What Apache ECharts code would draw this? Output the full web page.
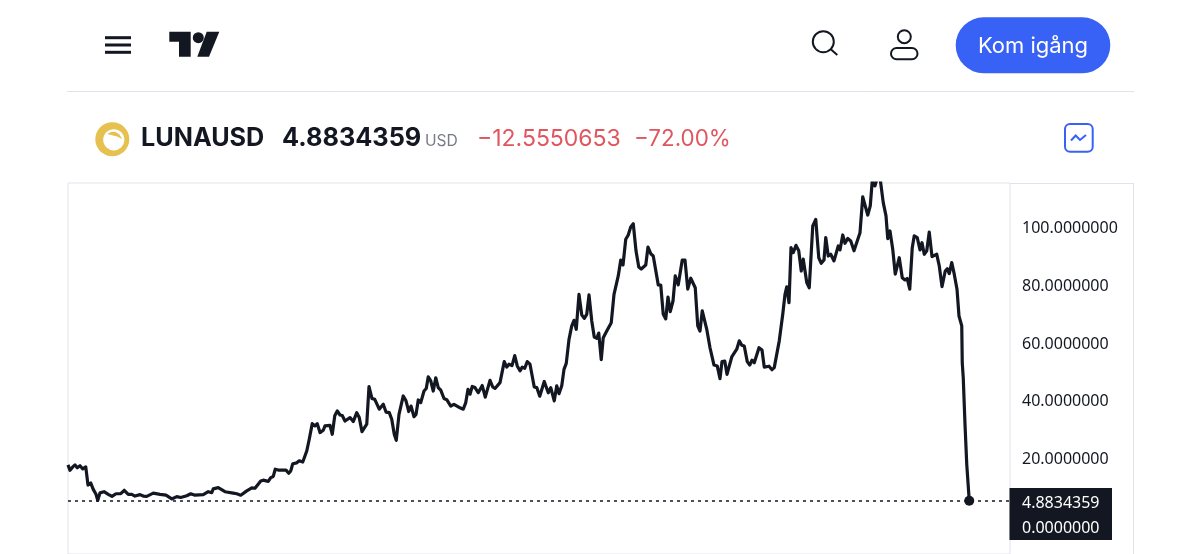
<!DOCTYPE html>
<html>
<head>
<meta charset="utf-8">
<title>LUNAUSD</title>
<script src="https://cdn.jsdelivr.net/npm/echarts@6/dist/echarts.min.js"></script>
<style>
html, body { margin: 0; padding: 0; background: #fff; }
#main { width: 1200px; height: 554px; }
</style>
</head>
<body>
<div id="main"></div>
<script>
/* sessions since the left edge of the chart */
var sessions = [
  0, 0.8, 1.9, 2.8, 3.7, 4.8, 5.9, 7.1, 8, 9.1, 10.1, 11.2, 11.9, 12.8, 14.4, 16.1, 17.6, 19.2, 21.1, 22.5,
  24.1, 25.5, 26.8, 28.8, 30.1, 31.5, 34.1, 36.8, 39.2, 41.5, 43.5, 45.1, 47.5, 49.1, 50.8, 54.1, 56.1, 57.5, 58.1, 60.1,
  62.8, 66.1, 67.5, 69.1, 71.5, 73.5, 74.8, 77.1, 78.1, 80.1, 81.1, 82.1, 82.9, 84.1, 87.2, 88.3, 89.1, 89.9, 91.5, 92.5,
  93.9, 95.5, 96.5, 97.7, 98.8, 99.7, 100.8, 102.1, 102.8, 104.8, 105.7, 106.7, 107.7, 108.8, 109.7, 110.8, 112.8, 114.1, 115.5, 116.5,
  117.6, 119.5, 120.4, 121.6, 122.7, 124.5, 126.1, 127.2, 128.5, 129.5, 130.5, 131.3, 132.4, 134.1, 135.2, 136.3, 137.2, 138.4, 139.2, 140.1,
  141.1, 142.4, 143.3, 144.1, 145.1, 146.1, 147.1, 148.1, 149.1, 150.4, 151.5, 153.1, 154.4, 156.8, 158.1, 159.1, 160, 160.8, 161.7, 162.8,
  164.1, 165.7, 166.9, 168.8, 169.9, 170.8, 172.8, 174.5, 175.5, 176.4, 177.6, 178.7, 179.7, 180.8, 181.7, 182.7, 183.7, 184.8, 186.5, 187.5,
  188.7, 190.5, 192.1, 193.1, 194.5, 195.5, 196.4, 197.5, 198.4, 199.3, 200.4, 201.5, 202.4, 203.3, 204.4, 205.5, 206.5, 207.5, 208.4, 209.5,
  210.5, 211.5, 212.3, 213.3, 214.1, 215.5, 217.3, 218.4, 220.1, 221.1, 222, 223.1, 224.1, 225.1, 226.1, 227.2, 228.3, 229.3, 231.1, 232,
  233.1, 234.1, 236.1, 237.1, 238.1, 239.1, 240, 240.9, 242, 242.9, 244.1, 244.8, 245.7, 246.8, 247.9, 249.1, 249.9, 250.9, 251.9, 252.8,
  253.7, 255.5, 256.8, 258.4, 259.7, 260.8, 261.6, 262.7, 263.6, 265.5, 267.5, 268.5, 269.5, 270.5, 271.7, 272.7, 273.6, 274.5, 276.4, 277.6,
  278.5, 280.4, 281.6, 282.5, 284.5, 285.9, 286.8, 287.5, 288.4, 289.2, 290.1, 291.2, 292.3, 293.3, 294.1, 295.5, 296.5, 297.9, 299.1, 300.3,
  301.3, 302.4, 303.1, 304.1, 305.1, 306.4, 308.1, 308.8, 309.9, 310.8, 311.9, 313.1, 314.4, 315.2, 316.8, 317.9, 319.9, 320.9, 321.7, 322.8,
  323.7, 324.8, 326.1, 327.2, 327.9, 328.8, 329.9, 330.9, 332.5, 333.7, 334.8, 335.7, 336.7, 337.7, 338.5, 339.7, 340.8, 341.6, 342.5, 343.5,
  344.5, 345.6, 347.5, 348.5, 349.6, 350.9, 351.7, 352.5, 353.5, 354.5, 355.6, 356.4, 357.5, 357.7, 358.1, 358.8, 359.5, 360.5
];
var prices = [
  17.3, 15.4, 16.6, 17.3, 16.3, 17, 15.9, 16.6, 10.3, 11, 8.8, 7.1, 5, 7.6, 8, 7.1, 6.4, 7.3, 7.3, 8.5,
  7.1, 7.1, 6.5, 7, 6.5, 6.4, 7.5, 7.1, 6.8, 5.5, 6.3, 6, 6.6, 7.3, 6.8, 7, 8, 7.7, 9, 9.4,
  8, 7.5, 7.3, 6.8, 8.3, 9.3, 9.2, 11.7, 12, 11.6, 12.9, 13.3, 15.8, 15.5, 15.5, 14.4, 15.2, 17.7, 18, 18.7,
  18.3, 22.1, 26.2, 31.6, 30.8, 31.6, 28.5, 29.3, 30.8, 31, 27.9, 34.3, 36, 34.6, 34.4, 32.5, 33.7, 32.3, 35.4, 33.7,
  28.8, 31.4, 44.4, 40.3, 40, 36.6, 38.3, 35.6, 35.4, 33.1, 27.9, 25.8, 34.8, 41.2, 39.5, 35.8, 37.7, 34, 34.8, 39.8,
  38.9, 42.9, 43.8, 47.8, 46.4, 42.9, 47.5, 44.1, 43.2, 40.3, 39.9, 37.7, 38.3, 37.1, 36.6, 38.9, 43.5, 41.8, 44.5, 44.1,
  42.3, 44.8, 40.8, 46.6, 44.3, 43.8, 45.8, 53.1, 51.2, 52.2, 51.7, 55.2, 51.6, 49.9, 51.2, 50.8, 53.1, 52.2, 44.3, 44.1,
  41.1, 46.2, 42.3, 44.1, 39.5, 44.7, 42, 44.7, 50.4, 52.5, 60.8, 65.5, 67.4, 64.3, 76.4, 69.3, 68.1, 69.5, 76.2, 67.2,
  61.6, 61.2, 63, 53.8, 61.4, 63.7, 66.6, 76.4, 82.8, 88.3, 86.6, 95.5, 97, 99.8, 100.9, 91.5, 85.9, 85.2, 86.6, 92.8,
  90.5, 89.7, 79.7, 79.6, 69.5, 67.9, 75.5, 70.4, 74.1, 82.8, 79.7, 79.7, 88.3, 88.3, 78.2, 82, 82.2, 78.7, 65.5, 63.7,
  70.7, 64.3, 57.9, 51.9, 51.6, 47.2, 53.1, 53.3, 48.7, 54.7, 57.4, 60.3, 58.8, 58.5, 53.1, 51.9, 53.6, 52.7, 57.9, 57.1,
  51.2, 51.5, 50.3, 51, 60.3, 69.5, 76.4, 79, 73.5, 92.6, 90.9, 93.4, 91.5, 84.5, 88.6, 80.5, 78.7, 100.1, 102.4, 89.1,
  87.2, 88.3, 96.1, 89.7, 90.3, 88, 93.2, 91.8, 97, 94.1, 95.8, 94.9, 91.5, 92, 97.8, 110.2, 103.9, 107.1, 115.7, 114,
  116.9, 116.9, 108.2, 103.6, 95.7, 98.4, 92, 83.4, 89.1, 82.2, 81.4, 81.9, 78.2, 92.6, 96.7, 96.1, 91.8, 94.3, 90.3, 91.5,
  98, 89.5, 90.3, 86.3, 79.1, 84.5, 85.3, 83.6, 87.4, 83.4, 78.2, 68.9, 65.5, 52.7, 47.5, 31.4, 17.5, 4.8834359
];
var tickValues = [20, 40, 60, 80, 100];
var lastPrice = 4.8834359;
var lastLabel = '4.8834359';
var zeroLabel = '0.0000000';
var symbolName = 'LUNAUSD';
var priceLabel = '4.8834359';
var currency = 'USD';
var changeAbs = '\u221212.5550653';
var changePct = '\u221272.00%';
var buttonLabel = 'Kom ig\u00e5ng';

var INK = '#131722';
var BORDER = '#e0e3eb';
var BLUE = '#3861f6';
var RED = '#e0565f';
var FONT = 'Inter, "Noto Sans", sans-serif';
var AXIS_FONT = '"Noto Sans", sans-serif';

var seriesData = sessions.map(function(s, i) { return [s, prices[i]]; });

function txt(x, y, text, size, color, weight, align, family) {
    return {
        type: 'text', x: x, y: y, silent: true,
        style: {
            text: text, fontSize: size, fill: color, fontWeight: weight || 'normal',
            fontFamily: family || FONT, align: align || 'left', verticalAlign: 'middle'
        }
    };
}
function seg(x1, y1, x2, y2, color, width) {
    return {
        type: 'line', silent: true,
        shape: { x1: x1, y1: y1, x2: x2, y2: y2 },
        style: { stroke: color, lineWidth: width, lineCap: 'butt' }
    };
}

var header = [
    /* menu */
    seg(105, 37.7, 131, 37.7, INK, 3),
    seg(105, 45, 131, 45, INK, 3),
    seg(105, 52.3, 131, 52.3, INK, 3),
    /* logo */
    { type: 'polygon', silent: true, shape: { points: [[169.3, 31.7], [190.7, 31.7], [190.7, 56.7], [179, 56.7], [179, 41.7], [169.3, 41.7]] }, style: { fill: INK } },
    { type: 'circle', silent: true, shape: { cx: 198.3, cy: 37.7, r: 5.5 }, style: { fill: INK } },
    { type: 'polygon', silent: true, shape: { points: [[206.7, 31.7], [219.3, 31.7], [209, 56.7], [197.3, 56.7]] }, style: { fill: INK } },
    /* search */
    { type: 'circle', silent: true, shape: { cx: 823.3, cy: 41.7, r: 10.5 }, style: { fill: 'none', stroke: INK, lineWidth: 2 } },
    seg(830.5, 49, 837.3, 55, INK, 2),
    /* account */
    { type: 'circle', silent: true, shape: { cx: 904.3, cy: 36.7, r: 6.5 }, style: { fill: 'none', stroke: INK, lineWidth: 2 } },
    { type: 'rect', silent: true, shape: { x: 891, y: 48, width: 26.5, height: 11.3, r: 5.6 }, style: { fill: 'none', stroke: INK, lineWidth: 2 } },
    /* button */
    { type: 'rect', silent: true, shape: { x: 955.7, y: 17.3, width: 154.6, height: 56, r: 28 }, style: { fill: BLUE } },
    txt(1033, 46.5, buttonLabel, 22, '#ffffff', 'normal', 'center'),
    /* separator */
    seg(67, 91.5, 1134, 91.5, BORDER, 1),
    /* symbol line */
    { type: 'circle', silent: true, shape: { cx: 112.3, cy: 139.3, r: 17 }, style: { fill: '#e6c14f' } },
    { type: 'circle', silent: true, shape: { cx: 113.8, cy: 139.8, r: 10.6 }, style: { fill: '#ffffff' } },
    { type: 'polygon', silent: true, shape: { points: [[107.3, 134], [111, 132], [115, 131.7], [119, 134], [122.3, 139], [117, 136.5], [113, 135.5]] }, style: { fill: '#e6c14f' } },
    txt(141, 138.5, symbolName, 25.2, INK, 'bold'),
    txt(282, 138.5, priceLabel, 25.3, INK, 'bold'),
    txt(425, 141, currency, 15.6, '#787b86'),
    txt(477, 139, changeAbs, 23, RED),
    txt(634, 139, changePct, 22.4, RED),
    { type: 'rect', silent: true, shape: { x: 1065, y: 124, width: 27.7, height: 27.7, r: 5 }, style: { fill: 'none', stroke: BLUE, lineWidth: 2 } },
    { type: 'polyline', silent: true, shape: { points: [[1071, 140.5], [1075.7, 135.5], [1080, 140], [1086, 135]] }, style: { fill: 'none', stroke: BLUE, lineWidth: 2 } },
    /* price scale column */
    seg(1010, 183.5, 1133.5, 183.5, BORDER, 1),
    seg(1133.5, 183, 1133.5, 554, BORDER, 1),
    /* last price box */
    { type: 'rect', silent: true, z: 10, shape: { x: 1009.5, y: 488, width: 102.5, height: 52 }, style: { fill: INK } },
    { type: 'text', silent: true, z: 11, x: 1022, y: 503, style: { text: lastLabel, fontSize: 16, fill: '#ffffff', fontFamily: AXIS_FONT, verticalAlign: 'middle' } },
    { type: 'text', silent: true, z: 11, x: 1022, y: 528.5, style: { text: zeroLabel, fontSize: 16, fill: '#ffffff', fontFamily: AXIS_FONT, verticalAlign: 'middle' } }
];

var chart = echarts.init(document.getElementById('main'), null, { renderer: 'canvas' });
chart.setOption({
    animation: false,
    backgroundColor: '#ffffff',
    grid: {
        left: 68, right: 190, top: 183, bottom: 0,
        show: true, borderColor: BORDER, borderWidth: 1, backgroundColor: 'transparent'
    },
    xAxis: {
        type: 'value', min: 0, max: 376.8,
        axisLine: { show: false }, axisTick: { show: false },
        axisLabel: { show: false }, splitLine: { show: false }
    },
    yAxis: {
        type: 'value', position: 'right', min: -13.59, max: 115.01,
        axisLine: { show: false }, axisTick: { show: false },
        splitLine: { show: false },
        axisLabel: {
            customValues: tickValues,
            margin: 12, align: 'left', verticalAlign: 'top', lineHeight: 5,
            fontSize: 16, color: INK, fontFamily: AXIS_FONT,
            formatter: function(v) { return v.toFixed(7); }
        }
    },
    series: [
        {
            type: 'line', data: seriesData, showSymbol: false,
            lineStyle: { color: INK, width: 3.2, join: 'round' },
            markLine: {
                silent: true, symbol: 'none', animation: false, label: { show: false },
                lineStyle: { color: INK, type: [3, 4], width: 1.6 },
                data: [{ yAxis: lastPrice }]
            }
        },
        {
            type: 'scatter', data: [seriesData[seriesData.length - 1]],
            symbolSize: 10, itemStyle: { color: INK, opacity: 1 }
        }
    ],
    graphic: header
});
</script>
</body>
</html>
